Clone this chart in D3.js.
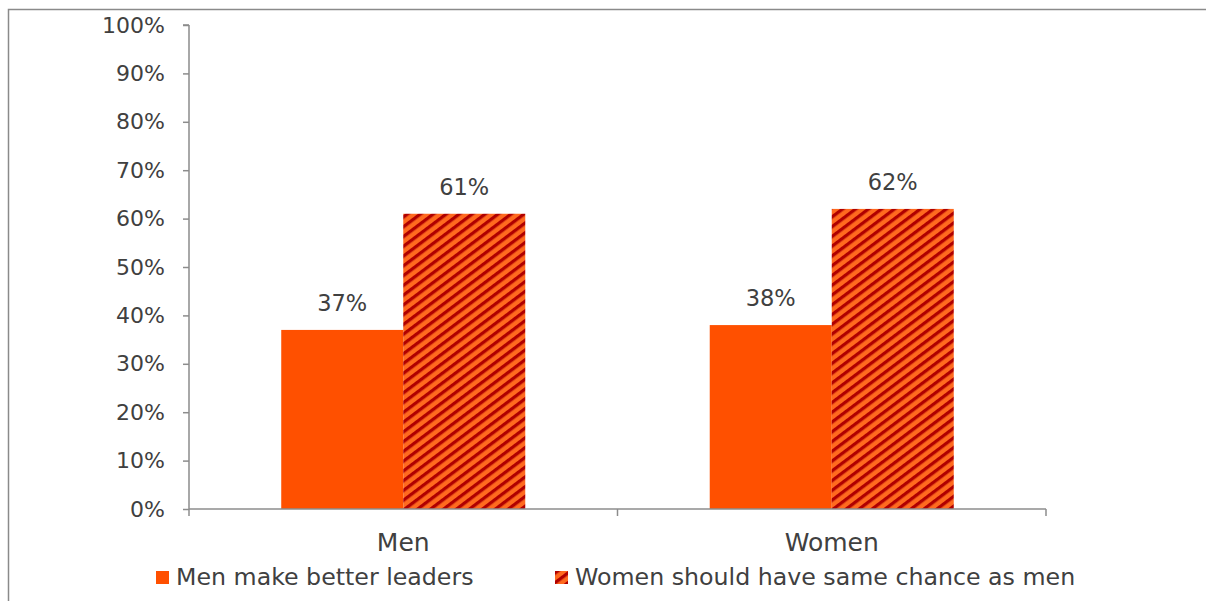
<!DOCTYPE html>
<html>
<head>
<meta charset="utf-8">
<script src="https://cdn.jsdelivr.net/npm/d3@7"></script>
<style>
  html, body { margin: 0; padding: 0; background: #fff; }
  svg { display: block; }
</style>
</head>
<body>
<div id="wrapper"></div>
<script>
// data
const groups = ["Men", "Women"]
const series = ["Men make better leaders", "Women should have same chance as men"]
const menValues = [0.37, 0.61]
const womenValues = [0.38, 0.62]
const yTicks = [0, 0.1, 0.2, 0.3, 0.4, 0.5, 0.6, 0.7, 0.8, 0.9, 1.0]

const dataset = groups.map((g, i) => ({
  group: g,
  values: (i === 0 ? menValues : womenValues).map((v, j) => ({ key: series[j], value: v }))
}))

const dimensions = {
  width: 1206,
  height: 601,
  margin: { top: 25, right: 160, bottom: 92, left: 189 },
}
dimensions.boundedWidth = dimensions.width - dimensions.margin.left - dimensions.margin.right
dimensions.boundedHeight = dimensions.height - dimensions.margin.top - dimensions.margin.bottom

const font = "'DejaVu Sans', sans-serif"
const textColor = "#404040"
const axisColor = "#8c8c8c"

const wrapper = d3.select("#wrapper")
  .append("svg")
  .attr("width", dimensions.width)
  .attr("height", dimensions.height)

// hatch pattern
const defs = wrapper.append("defs")
const pat = defs.append("pattern")
  .attr("id", "hatch")
  .attr("patternUnits", "userSpaceOnUse")
  .attr("width", 7.8)
  .attr("height", 7.8)
  .attr("patternTransform", "rotate(53)")
pat.append("rect").attr("width", 7.8).attr("height", 7.8).attr("fill", "#ff6a1f")
pat.append("rect").attr("width", 3.3).attr("height", 7.8).attr("fill", "#b00000")

const colors = ["#ff5000", "url(#hatch)"]

// chart border (only left and top edges are inside the picture)
wrapper.append("path")
  .attr("d", `M8.5,${dimensions.height}V9.5H${dimensions.width}`)
  .attr("fill", "none")
  .attr("stroke", "#8a8a8a")
  .attr("stroke-width", 1.5)

const bounds = wrapper.append("g")
  .attr("transform", `translate(${dimensions.margin.left}, ${dimensions.margin.top})`)

// scales
const x0 = d3.scaleBand()
  .domain(groups)
  .range([0, dimensions.boundedWidth])

const x1 = d3.scaleBand()
  .domain(series)
  .range([0, x0.bandwidth()])
  .paddingOuter(0.756)

const yScale = d3.scaleLinear()
  .domain([0, 1])
  .range([dimensions.boundedHeight, 0])

// y axis
const yAxis = d3.axisLeft(yScale)
  .tickValues(yTicks)
  .tickFormat(d3.format(".0%"))
  .tickSize(6)
  .tickPadding(18)
const yAxisG = bounds.append("g").call(yAxis)
yAxisG.select(".domain").attr("stroke", axisColor).attr("stroke-width", 1.5).attr("d", `M0,0V${dimensions.boundedHeight}M-6,0H0`)
yAxisG.selectAll(".tick line").attr("stroke", axisColor).attr("stroke-width", 1.5)
yAxisG.selectAll(".tick text")
  .attr("fill", textColor)
  .style("font-family", font)
  .style("font-size", "22px")

// bars
const groupsG = bounds.selectAll(".group")
  .data(dataset)
  .enter().append("g")
  .attr("class", "group")
  .attr("transform", d => `translate(${x0(d.group)}, 0)`)

groupsG.selectAll("rect")
  .data(d => d.values)
  .enter().append("rect")
  .attr("x", d => x1(d.key))
  .attr("y", d => yScale(d.value))
  .attr("width", x1.bandwidth())
  .attr("height", d => dimensions.boundedHeight - yScale(d.value))
  .attr("fill", (d, i) => colors[i])

groupsG.selectAll(".label")
  .data(d => d.values)
  .enter().append("text")
  .attr("class", "label")
  .attr("x", d => x1(d.key) + x1.bandwidth() / 2)
  .attr("y", d => yScale(d.value) - 19)
  .attr("text-anchor", "middle")
  .attr("fill", textColor)
  .style("font-family", font)
  .style("font-size", "22.5px")
  .text(d => d3.format(".0%")(d.value))

// x axis
const xAxisG = bounds.append("g")
  .attr("transform", `translate(0, ${dimensions.boundedHeight})`)
xAxisG.append("line")
  .attr("x1", 0).attr("x2", dimensions.boundedWidth)
  .attr("stroke", axisColor).attr("stroke-width", 1.5)
const boundaries = groups.map(g => x0(g)).concat([dimensions.boundedWidth])
xAxisG.selectAll(".xtick")
  .data(boundaries)
  .enter().append("line")
  .attr("x1", d => d).attr("x2", d => d)
  .attr("y1", 0).attr("y2", 7)
  .attr("stroke", axisColor).attr("stroke-width", 1.5)
xAxisG.selectAll(".xlabel")
  .data(groups)
  .enter().append("text")
  .attr("x", d => x0(d) + x0.bandwidth() / 2)
  .attr("y", 42)
  .attr("text-anchor", "middle")
  .attr("fill", textColor)
  .style("font-family", font)
  .style("font-size", "25px")
  .text(d => d)

// legend
const legendX = [156, 555]
const legend = wrapper.selectAll(".legend")
  .data(series)
  .enter().append("g")
  .attr("class", "legend")
  .attr("transform", (d, i) => `translate(${legendX[i]}, 571)`)
legend.append("rect")
  .attr("width", 13).attr("height", 13)
  .attr("fill", (d, i) => colors[i])
legend.append("text")
  .attr("x", 20)
  .attr("y", 14)
  .attr("fill", textColor)
  .style("font-family", font)
  .style("font-size", "23.7px")
  .text(d => d)
</script>
</body>
</html>
